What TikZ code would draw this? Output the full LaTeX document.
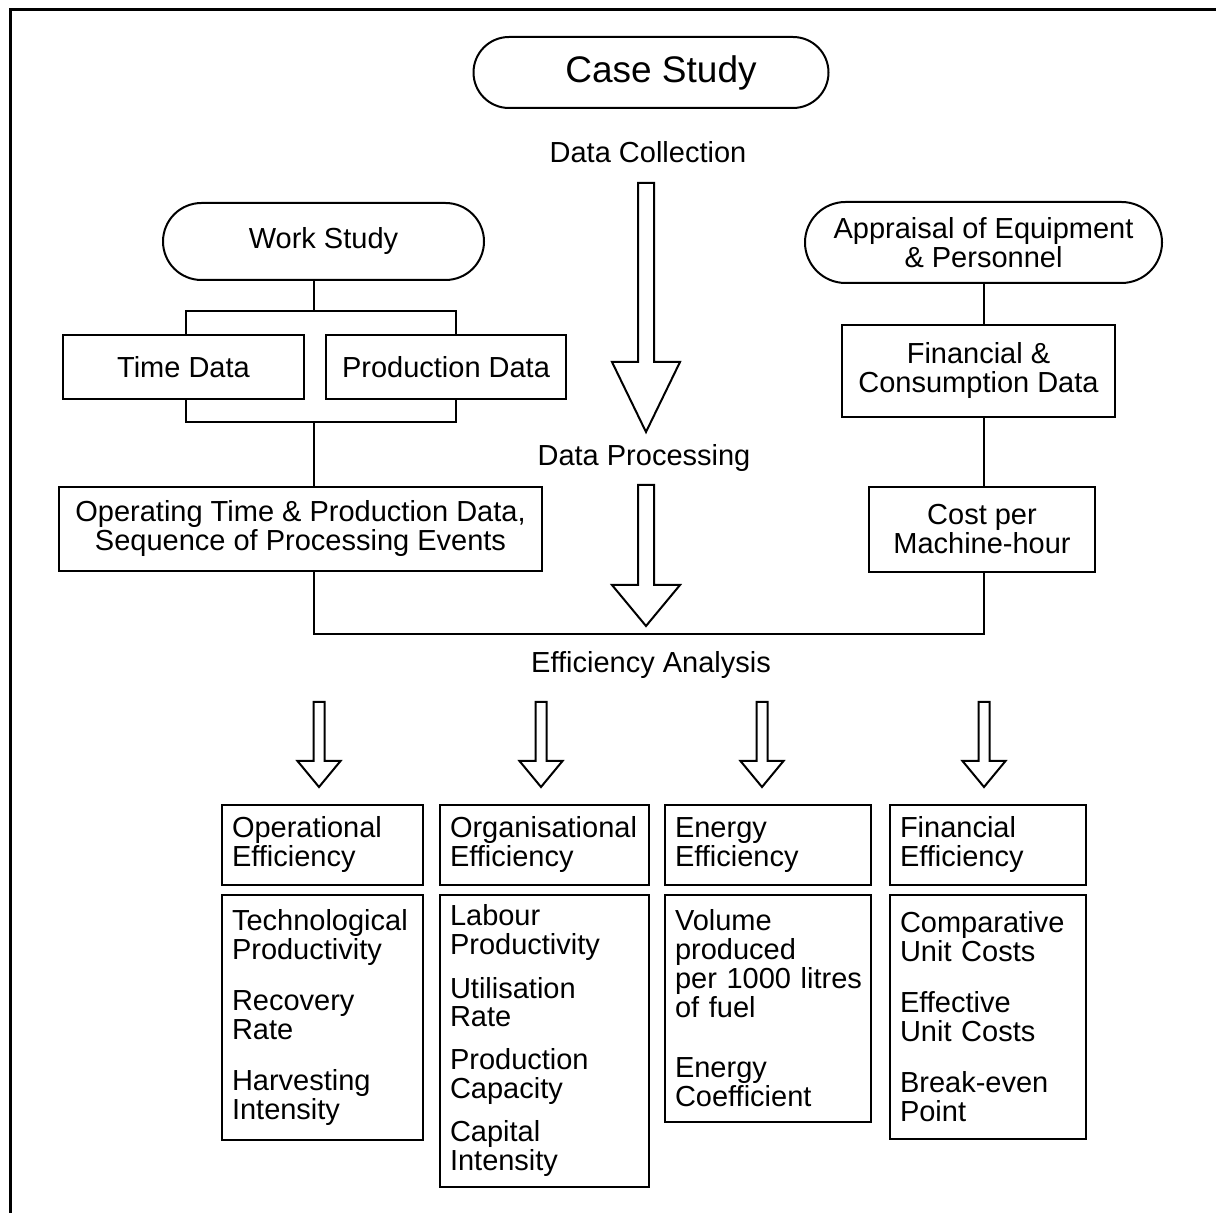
\documentclass[tikz,border=0pt]{standalone}
\usepackage{fontspec}
\setmainfont{Liberation Sans}
\usetikzlibrary{shapes.misc,calc}
\hyphenpenalty=10000
\exhyphenpenalty=10000
\tikzset{
  txt/.style={font=\fontsize{14.5}{14.5}\selectfont},
  boxbase/.style={txt, draw, line width=1pt, inner sep=0pt, align=center},
  termbox/.style={boxbase, rounded rectangle},
  databox/.style={boxbase},
  effbox/.style={boxbase, align=left, inner xsep=5pt},
  lbl/.style={txt, inner sep=0pt},
  link/.style={line width=1pt},
  blockarr/.style={draw, line width=1pt, line join=miter},
}
\begin{document}
\begin{tikzpicture}[x=0.5pt,y=-0.5pt]
  \useasboundingbox (0,0) rectangle (1216,1213);
  \draw[line width=1.5pt] (10,1213) -- (10,10) -- (1216,10);

  % top of the chart
  \node[termbox, minimum width=177.5pt, minimum height=35.5pt, font=\fontsize{18.5}{20}\selectfont] (case) at (651,72.5) {\hspace*{10pt}Case Study};
  \node[lbl] (dcoll) at (648,152) {Data Collection};
  \node[lbl] (dproc) at (644,458) {Data Processing};
  \node[lbl] (effan) at (651,665) {Efficiency Analysis};

  % left branch
  \node[termbox, minimum width=160.5pt, minimum height=38.5pt] (work) at (323.5,241.5) {Work Study};
  \node[databox, minimum width=120.5pt, minimum height=32pt] (time) at (183.5,367) {Time Data};
  \node[databox, minimum width=120pt, minimum height=32pt] (prod) at (446,367) {Production Data};
  \node[databox, minimum width=241.5pt, minimum height=42pt] (oper) at (300.5,529)
    {Operating Time \& Production Data,\\Sequence of Processing Events};

  % right branch
  \node[termbox, minimum width=178.5pt, minimum height=40.5pt] (apr) at (983.5,242.5)
    {Appraisal of Equipment\\\& Personnel};
  \node[databox, minimum width=136.5pt, minimum height=46pt] (fin) at (978.5,371)
    {Financial \&\\Consumption Data};
  \node[databox, minimum width=113pt, minimum height=42.5pt] (cost) at (982,529.5)
    {Cost per\\Machine-hour};

  \coordinate (splitT) at (314,311);
  \coordinate (splitL) at (186,311);
  \coordinate (splitR) at (456,311);
  \coordinate (mergeB) at (314,422);
  \coordinate (mergeL) at (186,422);
  \coordinate (mergeR) at (456,422);
  \coordinate (joinL) at (314,634);
  \coordinate (rline) at (984,0);

  \draw[link] (work.south -| splitT) -- (splitT);
  \draw[link] (time.north -| splitL) -- (splitL) -- (splitR) -- (prod.north -| splitR);
  \draw[link] (time.south -| mergeL) -- (mergeL) -- (mergeR) -- (prod.south -| mergeR);
  \draw[link] (mergeB) -- (oper.north -| mergeB);
  \draw[link] (apr.south -| rline) -- (fin.north -| rline);
  \draw[link] (fin.south -| rline) -- (cost.north -| rline);
  \draw[link] (oper.south -| joinL) -- (joinL) -| (cost.south -| rline);

  % hollow arrows: x/top/base/tip/half shaft/half head
  \foreach \ax/\at/\ab/\ap/\sw/\hw in {646/183/362/432/8/34, 646/485/585/626/8/34,
      319/702/761/787/5.5/21.5, 541/702/761/787/5.5/21.5,
      762/702/761/787/5.5/21.5, 984/702/761/787/5.5/21.5}
    \draw[blockarr] ({\ax-\sw},\at) -- ({\ax-\sw},\ab) -- ({\ax-\hw},\ab) -- (\ax,\ap)
      -- ({\ax+\hw},\ab) -- ({\ax+\sw},\ab) -- ({\ax+\sw},\at) -- cycle;

  % efficiency columns
  \node[effbox, minimum width=100.5pt, text width=90.5pt, minimum height=40pt] (opH) at (322.5,845)
    {Operational\\Efficiency};
  \node[effbox, minimum width=104.5pt, text width=94.5pt, minimum height=40pt] (orgH) at (544.5,845)
    {Organisational\\Efficiency};
  \node[effbox, minimum width=103pt, text width=93pt, minimum height=40pt] (enH) at (768,845)
    {Energy\\Efficiency};
  \node[effbox, minimum width=98pt, text width=88pt, minimum height=40pt] (finH) at (988,845)
    {Financial\\Efficiency};

  \node[effbox, minimum width=100.5pt, text width=90.5pt, minimum height=122.5pt] (opL) at (322.5,1017.5)
    {Technological\\Productivity\\[11pt]Recovery\\Rate\\[11pt]Harvesting\\Intensity};
  \node[effbox, minimum width=104.5pt, text width=94.5pt, minimum height=146pt] (orgL) at (544.5,1041)
    {Labour\\Productivity\\[7pt]Utilisation\\Rate\\[7pt]Production\\Capacity\\[7pt]Capital\\Intensity};
  \node[effbox, minimum width=103pt, text width=93pt, minimum height=113.5pt] (enL) at (768,1008.5)
    {Volume\\produced\\per~1000~litres\\of fuel\\[15.5pt]Energy\\Coefficient};
  \node[effbox, minimum width=98pt, text width=88pt, minimum height=122pt] (finL) at (988,1017)
    {Comparative\\Unit Costs\\[11pt]Effective\\Unit Costs\\[11pt]Break-even\\Point};
\end{tikzpicture}
\end{document}
